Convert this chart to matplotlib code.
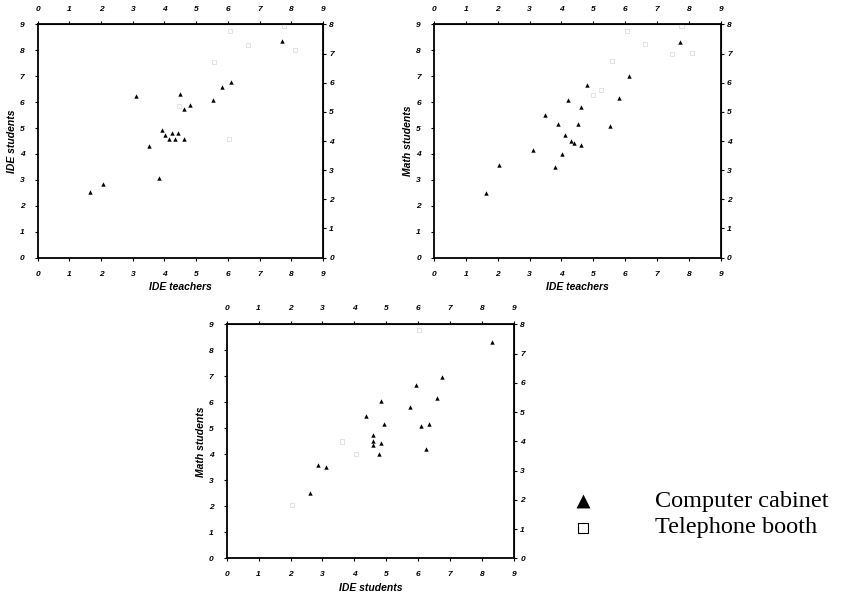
import numpy as np
import matplotlib
matplotlib.use('Agg')
import matplotlib.pyplot as plt

# Panel 1: IDE teachers vs IDE students
p1_cab_x = [1.65, 2.05, 3.10, 3.52, 3.84, 3.92, 4.03, 4.13, 4.23, 4.32, 4.43, 4.50, 4.63, 4.61, 4.82, 5.53, 5.83, 6.11, 7.70]
p1_cab_y = [2.55, 2.83, 6.24, 4.32, 3.07, 4.92, 4.74, 4.57, 4.80, 4.57, 4.82, 6.31, 4.57, 5.73, 5.90, 6.08, 6.57, 6.76, 8.36]
p1_tel_x = [7.78, 6.07, 6.64, 8.12, 5.57, 6.04, 4.47]
p1_tel_y = [8.95, 8.74, 8.20, 8.01, 7.56, 4.58, 5.86]

# Panel 2: IDE teachers vs Math students
p2_cab_x = [1.62, 2.03, 3.11, 3.50, 3.81, 3.90, 4.01, 4.12, 4.22, 4.31, 4.40, 4.51, 4.60, 4.61, 4.81, 5.52, 5.82, 6.12, 7.71]
p2_cab_y = [2.50, 3.58, 4.17, 5.50, 3.51, 5.16, 3.99, 4.75, 6.07, 4.49, 4.41, 5.16, 5.83, 4.33, 6.65, 5.07, 6.16, 6.99, 8.32]
p2_tel_x = [7.77, 6.07, 6.62, 8.09, 7.48, 5.58, 5.23, 5.00]
p2_tel_y = [8.93, 8.73, 8.23, 7.90, 7.85, 7.59, 6.46, 6.27]

# Panel 3: IDE students vs Math students
p3_cab_x = [2.61, 2.85, 3.10, 4.35, 4.59, 4.59, 4.59, 4.76, 4.84, 4.82, 4.93, 5.75, 5.92, 6.08, 6.24, 6.33, 6.58, 6.74, 8.31]
p3_cab_y = [2.50, 3.59, 3.51, 5.47, 4.75, 4.51, 4.35, 4.00, 4.43, 6.06, 5.15, 5.82, 6.65, 5.08, 4.19, 5.17, 6.17, 6.97, 8.33]
p3_tel_x = [6.03, 3.60, 4.06, 2.04]
p3_tel_y = [8.78, 4.49, 4.00, 2.05]

ticks_main = list(range(10))
ticks_right = list(range(9))

tick_font = dict(family='Liberation Sans', weight='bold', style='italic', size=6)
label_font = dict(family='Liberation Sans', weight='bold', style='italic', size=7.5)

fig = plt.figure(figsize=(8.43, 5.95), dpi=100)


def panel(rect, cx, cy, tx, ty, xlabel, ylabel):
    ax = fig.add_axes(rect)
    ax.set_xlim(0, 9)
    ax.set_ylim(0, 9)
    ax.scatter(tx, ty, marker='s', s=9, facecolors='none', edgecolors='#d8d8d8', linewidths=0.5, zorder=2)
    ax.scatter(cx, cy, marker='^', s=10, color='black', linewidths=0, zorder=3)
    ax.set_xticks(ticks_main)
    ax.set_yticks(ticks_main)
    ax.set_xticklabels([str(t) for t in ticks_main], fontdict=tick_font)
    ax.set_yticklabels([str(t) for t in ticks_main], fontdict=tick_font)
    ax.tick_params(direction='out', length=2.5, width=0.8, pad=7)
    ax.set_xlabel(xlabel, fontdict=label_font, labelpad=3)
    ax.set_ylabel(ylabel, fontdict=label_font, labelpad=2)
    for s in ax.spines.values():
        s.set_linewidth(1.3)

    top = ax.secondary_xaxis('top')
    top.set_xticks(ticks_main)
    top.set_xticklabels([str(t) for t in ticks_main], fontdict=tick_font)
    top.tick_params(direction='out', length=2.5, width=0.8, pad=6)

    right = ax.secondary_yaxis('right', functions=(lambda y: y * 8 / 9, lambda y: y * 9 / 8))
    right.set_yticks(ticks_right)
    right.set_yticklabels([str(t) for t in ticks_right], fontdict=tick_font)
    right.tick_params(direction='out', length=2.5, width=0.8, pad=2)
    return ax


panel([0.0447, 0.567, 0.3384, 0.392], p1_cab_x, p1_cab_y, p1_tel_x, p1_tel_y, 'IDE teachers', 'IDE students')
panel([0.5148, 0.567, 0.3401, 0.392], p2_cab_x, p2_cab_y, p2_tel_x, p2_tel_y, 'IDE teachers', 'Math students')
panel([0.2689, 0.0617, 0.3408, 0.3933], p3_cab_x, p3_cab_y, p3_tel_x, p3_tel_y, 'IDE students', 'Math students')

# legend
leg = fig.add_axes([0, 0, 1, 1], facecolor='none')
leg.set_xlim(0, 843)
leg.set_ylim(595, 0)
leg.axis('off')
leg.scatter([583], [501], marker='^', s=100, color='black', linewidths=0)
leg.scatter([583], [528], marker='s', s=50, facecolors='none', edgecolors='black', linewidths=0.8)
leg.text(655, 501, 'Computer cabinet', family='Liberation Serif', size=17.5, va='center', ha='left')
leg.text(655, 527, 'Telephone booth', family='Liberation Serif', size=17.5, va='center', ha='left')

fig.savefig('out.png', dpi=100)
